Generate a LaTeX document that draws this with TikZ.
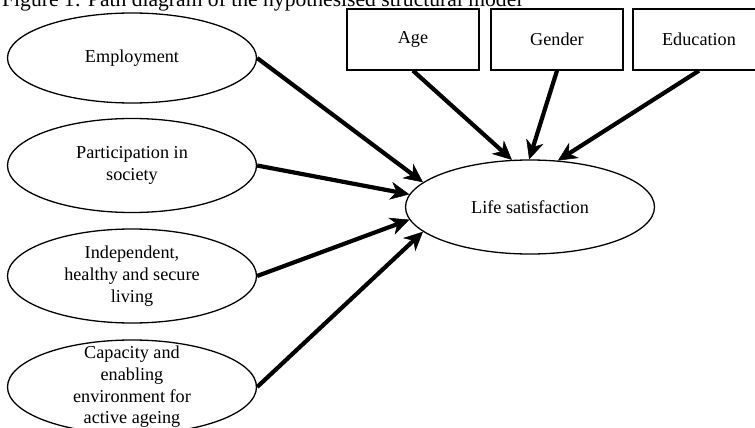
\documentclass[tikz,border=0pt]{standalone}
\usepackage{fontspec}
\setmainfont{Liberation Serif}
\usetikzlibrary{shapes.geometric, arrows.meta}

\begin{document}
\begin{tikzpicture}[x=1pt, y=-1pt,
	construct/.style={draw, ellipse, line width=1.3pt, minimum width=249pt, minimum height=94pt, inner sep=0pt, align=center, font=\fontsize{18.2}{21.7}\selectfont},
	covariate/.style={draw, rectangle, line width=1.3pt, minimum width=132pt, minimum height=61pt, font=\fontsize{18.2}{21.7}\selectfont},
	effect/.style={line width=4.2pt, -{Stealth[length=19pt, width=18pt, inset=6pt, line width=0.5pt]}}]
		% Page frame
		\useasboundingbox (0,0) rectangle (755,428);
		\clip (0,0) rectangle (755,428);
		% Title
		\node[anchor=base west, inner sep=0pt, font=\fontsize{21.6}{26}\selectfont] (title) at (2,6.5) {Figure 1: Path diagram of the hypothesised structural model};
		% Latent constructs
		\node[construct, minimum height=90pt] (emp) at (132,58) {Employment};
		\node[construct] (part) at (132,165.5) {Participation in\\society};
		\node[construct] (ind) at (132,276) {Independent,\\healthy and secure\\living};
		\node[construct, label={[align=center, font=\fontsize{18.2}{21.7}\selectfont]center:Capacity and\\enabling\\environment for\\active ageing}] (cap) at (132,387) {};
		\node[construct] (life) at (530,207) {Life satisfaction};
		% Control variables
		\node[covariate] (age) at (413,39.5) {Age};
		\node[covariate] (gender) at (557,39.5) {Gender};
		\node[covariate] (edu) at (699,39.5) {Education};
		% Paths
		\draw[effect] (emp.east) -- (life.167);
		\draw[effect] (part.east) -- (life.174);
		\draw[effect] (ind.east) -- (life.186);
		\draw[effect] (cap.east) -- (life.193);
		\draw[effect] (age.south) -- (life.111);
		\draw[effect] (gender.south) -- (life.91);
		\draw[effect] (edu.south) -- (life.59);
	\end{tikzpicture}
\end{document}
